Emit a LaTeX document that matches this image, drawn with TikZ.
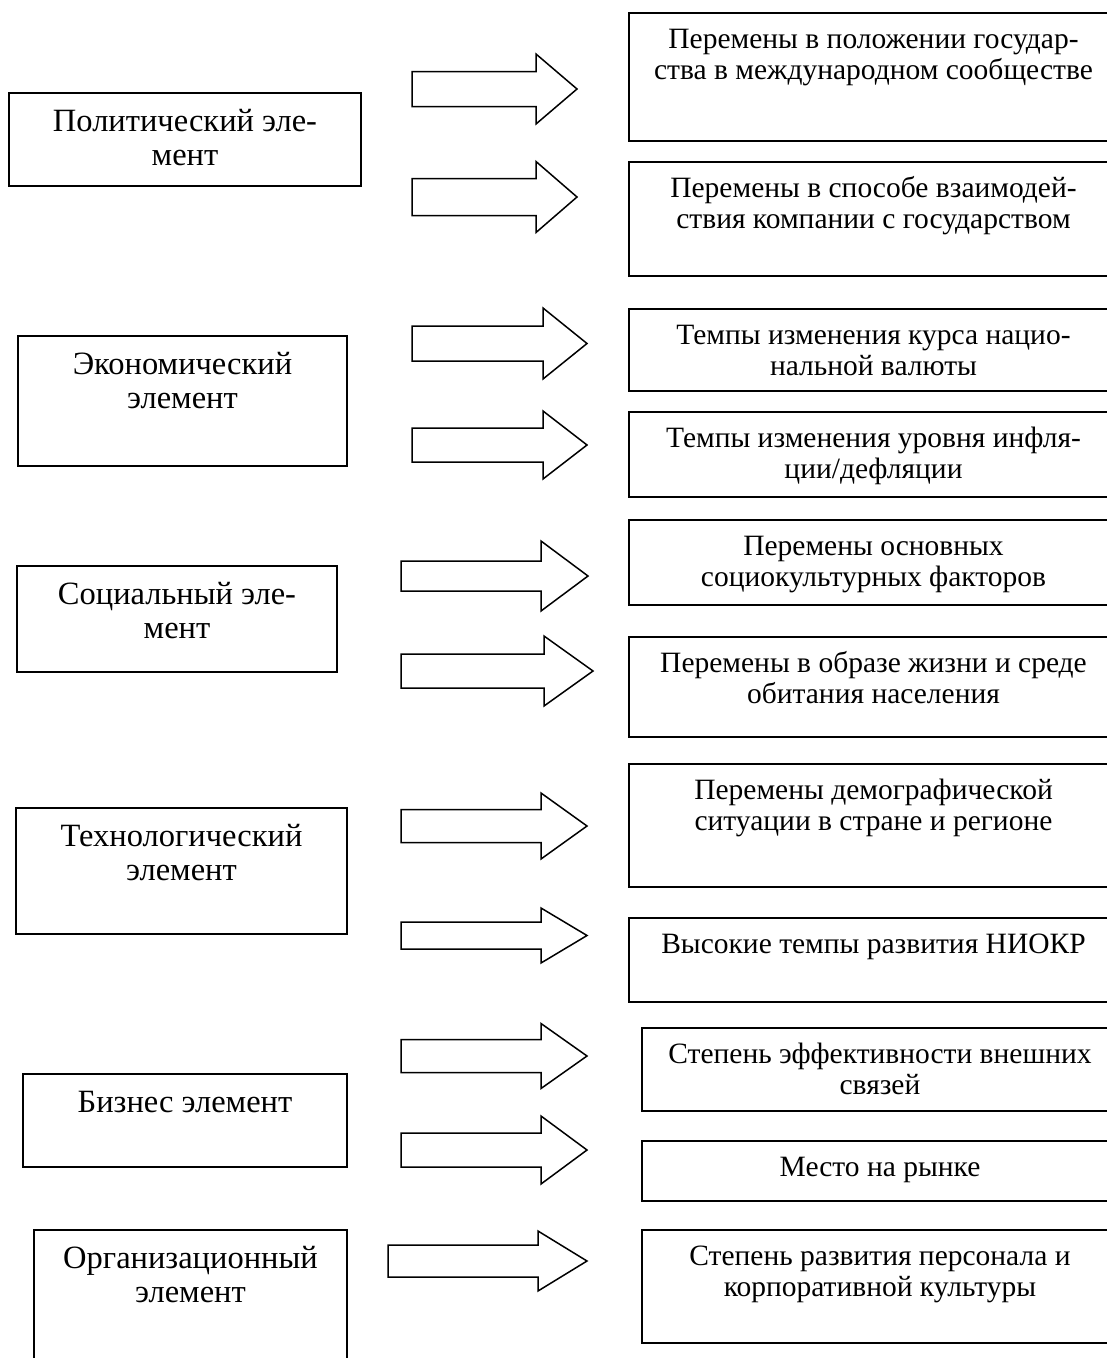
\documentclass[tikz,border=0pt]{standalone}
\usepackage{fontspec}
\setmainfont{Liberation Serif}
\tikzset{
  boxr/.style={draw, line width=1.8pt, rectangle, inner sep=0pt, outer sep=0pt, anchor=north west},
  rtxt/.style={anchor=north, align=center, inner sep=0pt, font=\fontsize{29.5}{31}\selectfont},
  ltxt/.style={anchor=north, align=center, inner sep=0pt, font=\fontsize{32.5}{34}\selectfont},
  barrow/.style={draw, line width=1.5pt, line join=miter, fill=white},
}
\newcommand\mkbox[5]{% name, left, top, right, bottom
  \node[boxr, minimum width={#4-#2}, minimum height={#5-#3}] (#1) at (#2,#3) {};}
\newcommand\mktext[4]{% name, box, style, text
  \node[#3] (#1) at ([yshift=-14pt]#2.north) {\strut #4};}
\newcommand\mkarrow[7]{% name, xl, xb, xt, yc, shaft half, head half
  \draw[barrow] ({#2},{#5-#6}) -- ({#3},{#5-#6}) -- ({#3},{#5-#7}) -- ({#4},{#5})
    -- ({#3},{#5+#7}) -- ({#3},{#5+#6}) -- ({#2},{#5+#6}) -- cycle;
  \coordinate (#1) at ({#4},{#5});}
\begin{document}
\begin{tikzpicture}[x=1pt,y=-1pt]
\useasboundingbox (0,0) rectangle (1107,1358);
\clip (0,0) rectangle (1107,1358);
\fill[white] (0,0) rectangle (1107,1358);
% left boxes
\mkbox{L1}{9}{93}{361}{186}
\mkbox{L2}{18}{336}{347}{466}
\mkbox{L3}{17}{566}{337}{672}
\mkbox{L4}{16}{808}{347}{934}
\mkbox{L5}{23}{1074}{347}{1167}
\mkbox{L6}{34}{1230}{347}{1375}
\mktext{tL1}{L1}{ltxt}{Политический эле-\\мент}
\mktext{tL2}{L2}{ltxt}{Экономический\\элемент}
\mktext{tL3}{L3}{ltxt}{Социальный эле-\\мент}
\mktext{tL4}{L4}{ltxt}{Технологический\\элемент}
\mktext{tL5}{L5}{ltxt}{Бизнес элемент}
\mktext{tL6}{L6}{ltxt}{Организационный\\элемент}
% right boxes
\mkbox{R1}{629}{13}{1118}{141}
\mkbox{R2}{629}{162}{1118}{276}
\mkbox{R3}{629}{309}{1118}{391}
\mkbox{R4}{629}{412}{1118}{497}
\mkbox{R5}{629}{520}{1118}{605}
\mkbox{R6}{629}{637}{1118}{737}
\mkbox{R7}{629}{764}{1118}{887}
\mkbox{R8}{629}{918}{1118}{1002}
\mkbox{R9}{642}{1028}{1118}{1111}
\mkbox{R10}{642}{1141}{1118}{1201}
\mkbox{R11}{642}{1230}{1118}{1343}
\mktext{tR1}{R1}{rtxt}{Перемены в положении государ-\\ства в международном сообществе}
\mktext{tR2}{R2}{rtxt}{Перемены в способе взаимодей-\\ствия компании с государством}
\mktext{tR3}{R3}{rtxt}{Темпы изменения курса нацио-\\нальной валюты}
\mktext{tR4}{R4}{rtxt}{Темпы изменения уровня инфля-\\ции/дефляции}
\mktext{tR5}{R5}{rtxt}{Перемены основных\\социокультурных факторов}
\mktext{tR6}{R6}{rtxt}{Перемены в образе жизни и среде\\обитания населения}
\mktext{tR7}{R7}{rtxt}{Перемены демографической\\ситуации в стране и регионе}
\mktext{tR8}{R8}{rtxt}{Высокие темпы развития НИОКР}
\mktext{tR9}{R9}{rtxt}{Степень эффективности внешних\\связей}
\mktext{tR10}{R10}{rtxt}{Место на рынке}
\mktext{tR11}{R11}{rtxt}{Степень развития персонала и\\корпоративной культуры}
% block arrows
\mkarrow{A1}{412}{536}{577}{89}{17.5}{35}
\mkarrow{A2}{412}{536}{577}{197}{18.5}{35.5}
\mkarrow{A3}{412}{543}{587}{343.5}{17.5}{35.5}
\mkarrow{A4}{412}{543}{587}{445}{17}{34}
\mkarrow{A5}{401}{541}{588}{576}{15}{35}
\mkarrow{A6}{401}{544}{593}{671}{17}{35}
\mkarrow{A7}{401}{541}{587}{826}{16.5}{33}
\mkarrow{A8}{401}{541}{587}{935.5}{13.5}{27.5}
\mkarrow{A9}{401}{541}{587}{1056}{16.5}{32.5}
\mkarrow{A10}{401}{541}{587}{1150}{17}{34}
\mkarrow{A11}{388}{538}{587}{1261}{16}{30}
\end{tikzpicture}
\end{document}
